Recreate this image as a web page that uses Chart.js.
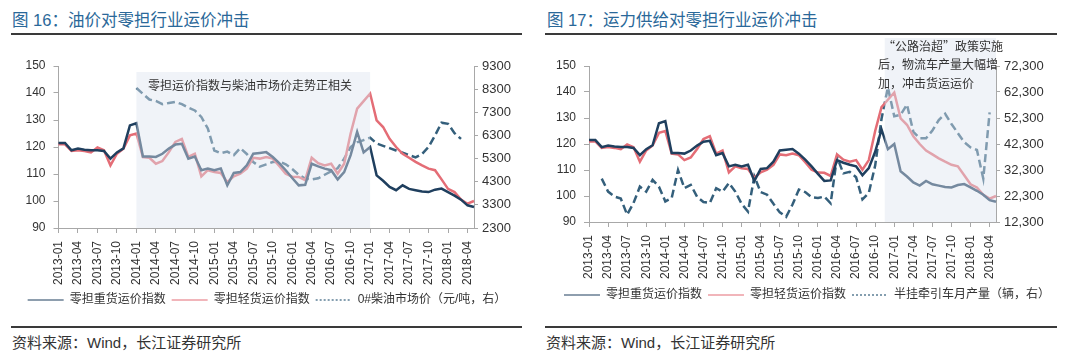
<!DOCTYPE html>
<html>
<head>
<meta charset="utf-8">
<script src="https://cdn.jsdelivr.net/npm/chart.js@4.4.1/dist/chart.umd.min.js"></script>
<style>
  body { margin: 0; background: #fff; }
  #page { position: relative; width: 1080px; height: 354px; overflow: hidden; background: #fff; }
  .title { position: absolute; top: 9px; font: 16.5px/22px "Liberation Sans", "Noto Sans CJK SC", sans-serif; color: #2a6899; white-space: nowrap; }
  .rule { position: absolute; height: 2px; background: #3a3a3a; }
  .src { position: absolute; top: 333px; font: 15px/20px "Liberation Sans", "Noto Sans CJK SC", sans-serif; color: #333; white-space: nowrap; }
  canvas { position: absolute; }
</style>
</head>
<body>
<div id="page">
  <div class="title" style="left:12px">图 16：油价对零担行业运价冲击</div>
  <div class="rule" style="left:11px;top:33px;width:511px"></div>
  <canvas id="c1" width="530" height="280" style="left:0;top:40px"></canvas>
  <div class="rule" style="left:11px;top:326px;width:511px"></div>
  <div class="src" style="left:12px">资料来源：Wind，长江证券研究所</div>

  <div class="title" style="left:547px">图 17：运力供给对零担行业运价冲击</div>
  <div class="rule" style="left:545px;top:33px;width:512px"></div>
  <canvas id="c2" width="530" height="290" style="left:540px;top:30px"></canvas>
  <div class="rule" style="left:545px;top:326px;width:512px"></div>
  <div class="src" style="left:546px">资料来源：Wind，长江证券研究所</div>
</div>
<script>
// monthly categories
const months = [
  "2013-01","2013-02","2013-03","2013-04","2013-05","2013-06","2013-07","2013-08","2013-09","2013-10","2013-11","2013-12",
  "2014-01","2014-02","2014-03","2014-04","2014-05","2014-06","2014-07","2014-08","2014-09","2014-10","2014-11","2014-12",
  "2015-01","2015-02","2015-03","2015-04","2015-05","2015-06","2015-07","2015-08","2015-09","2015-10","2015-11","2015-12",
  "2016-01","2016-02","2016-03","2016-04","2016-05","2016-06","2016-07","2016-08","2016-09","2016-10","2016-11","2016-12",
  "2017-01","2017-02","2017-03","2017-04","2017-05","2017-06","2017-07","2017-08","2017-09","2017-10","2017-11","2017-12",
  "2018-01","2018-02","2018-03","2018-04","2018-05"
];
const tickMonths = [
  "2013-01","2013-04","2013-07","2013-10","2014-01","2014-04","2014-07","2014-10",
  "2015-01","2015-04","2015-07","2015-10","2016-01","2016-04","2016-07","2016-10",
  "2017-01","2017-04","2017-07","2017-10","2018-01","2018-04"
];

// 零担重货运价指数
const heavyIndex = [
  121.5, 121.5, 118.8, 119.4, 119.0, 118.8, 118.8, 118.5, 115.7, 118.0, 119.5, 128.0,
  128.8, 116.5, 116.5, 116.3, 117.5, 119.4, 120.9, 121.2, 115.7, 116.5, 111.4, 112.0,
  111.4, 112.0, 105.8, 110.4, 110.7, 113.2, 117.5, 117.8, 118.1, 116.3, 114.0, 111.4,
  108.5, 105.8, 106.0, 113.8, 112.8, 112.0, 111.4, 108.0, 110.7, 117.0, 125.6, 118.0,
  120.0, 109.5, 107.5, 105.2, 104.0, 105.8, 104.5, 104.0, 103.5, 103.3, 104.2, 104.6,
  103.3, 102.0, 100.5, 98.4, 97.8
];
// 零担轻货运价指数
const lightIndex = [
  121.0, 121.0, 118.5, 118.8, 118.5, 118.0, 119.8, 118.8, 113.2, 117.5, 119.4, 124.3,
  125.0, 116.3, 116.0, 113.8, 114.8, 118.1, 121.9, 123.0, 116.3, 117.5, 109.1, 111.4,
  110.7, 110.4, 107.0, 109.1, 110.1, 112.0, 116.0, 115.7, 116.3, 115.7, 113.0, 110.1,
  109.0, 108.9, 107.7, 116.0, 114.0, 113.2, 113.8, 110.1, 113.8, 125.0, 134.2, 137.0,
  139.8, 129.9, 127.4, 123.0, 120.0, 117.5, 116.0, 114.5, 113.2, 112.0, 111.4, 108.0,
  104.5, 103.3, 100.5, 99.0, 100.0
];
// 0#柴油市场价（元/吨）
const dieselPrice = [
  null, null, null, null, null, null, null, null, null, null, null, null,
  8350, 8100, 7850, 7790, 7650, 7700, 7750, 7650, 7500, 7380, 7100, 6600,
  5650, 5530, 5600, 5450, 5750, 5500, 5150, 4950, 5050, 5150, 5170, 5050,
  4850, 4600, 4440, 4400, 4450, 4600, 4750, 4880, 5300, 5800, 6000, 6100,
  6200, 5950, 5850, 5750, 5650, 5550, 5450, 5350, 5500, 5800, 6300, 6850,
  6800, 6400, 6150, null, null
];
// 半挂牵引车月产量（辆）
const tractorOutput = [
  null, null, 29000, 24000, 22100, 21300, 15100, 19600, 25900, 24000, 28500, 25900,
  20200, 21500, 32300, 25300, 26600, 22000, 20000, 19600, 25300, 24000, 27300, 24000,
  19300, 16300, 29800, 23800, 22800, 19300, 16000, 14300, 19000, 24800, 23800, 21800,
  21500, 22100, 19500, 37300, 31000, 31600, 29500, 21000, 23500, 34000, 52000, 64000,
  53000, 53500, 57500, 47000, 44500, 44500, 47500, 51500, 53900, 50000, 46500, 43000,
  41000, 40000, 29000, 54500, null
];

const indexTicks = [90, 100, 110, 120, 130, 140, 150];
const dieselTicks = [2300, 3300, 4300, 5300, 6300, 7300, 8300, 9300];
const tractorTicks = [12300, 22300, 32300, 42300, 52300, 62300, 72300];

const HEAVY = "#1f3f5e";
const LIGHT = "#e46d76";
const DASHC = "#345f7b";
const AXIS = "#a8a8a8";
const TEXT = "#333333";
const FONT = '"Liberation Sans", "Noto Sans CJK SC", sans-serif';

Chart.defaults.font.family = FONT;
Chart.defaults.color = TEXT;

// translucent band drawn over the lines, plus the annotation text
function shadePlugin(cfg) {
  return {
    id: "shade",
    afterDatasetsDraw(chart) {
      const { ctx, chartArea, scales } = chart;
      const x0 = scales.x.getPixelForValue(cfg.from);
      const x1 = cfg.to == null ? chartArea.right : scales.x.getPixelForValue(cfg.to);
      ctx.save();
      ctx.fillStyle = "rgba(222,229,239,0.45)";
      ctx.fillRect(x0, cfg.top, x1 - x0, chartArea.bottom - cfg.top);
      ctx.fillStyle = TEXT;
      ctx.font = '12px "Noto Sans CJK SC"';
      ctx.textBaseline = "middle";
      cfg.lines.forEach(l => ctx.fillText(l.text, l.x, l.y));
      ctx.restore();
    }
  };
}

function renderChart(id, g) {
  const ctx = document.getElementById(id).getContext("2d");
  return new Chart(ctx, {
    type: "line",
    data: {
      labels: months,
      datasets: [
        { label: "零担重货运价指数", data: heavyIndex, borderColor: HEAVY, yAxisID: "y" },
        { label: "零担轻货运价指数", data: lightIndex, borderColor: LIGHT, yAxisID: "y" },
        { label: g.rightLabel, data: g.rightData, borderColor: DASHC, borderDash: [8, 4], yAxisID: "y1" }
      ]
    },
    options: {
      responsive: false,
      animation: false,
      devicePixelRatio: 1,
      elements: { line: { borderWidth: 2.5, tension: 0 }, point: { radius: 0 } },
      layout: { padding: { top: g.padTop, left: 4, right: 0, bottom: g.padBottom } },
      plugins: {
        tooltip: { enabled: false },
        legend: {
          position: "bottom",
          labels: {
            usePointStyle: true,
            pointStyleWidth: 36,
            boxHeight: 12,
            padding: 6,
            color: TEXT,
            font: { size: 12 },
            generateLabels(chart) {
              const items = Chart.defaults.plugins.legend.labels.generateLabels(chart);
              items.forEach(it => {
                it.pointStyle = "line";
                it.lineWidth = 1.2;
                if (it.datasetIndex === 2) it.lineDash = [2, 2];
              });
              return items;
            }
          }
        }
      },
      scales: {
        x: {
          afterBuildTicks: s => { s.ticks = tickMonths.map(m => ({ value: months.indexOf(m) })); },
          afterFit: s => { s.height = g.xHeight; },
          ticks: { autoSkip: false, minRotation: 90, maxRotation: 90, padding: 8, font: { size: 12 } },
          grid: { drawOnChartArea: false, tickLength: 5, color: AXIS },
          border: { color: AXIS }
        },
        y: {
          position: "left",
          min: indexTicks[0],
          max: indexTicks[indexTicks.length - 1],
          afterBuildTicks: s => { s.ticks = indexTicks.map(v => ({ value: v })); },
          afterFit: s => { s.width = g.leftW; },
          ticks: { padding: 8, font: { size: 12 } },
          grid: { drawOnChartArea: false, tickLength: 5, color: AXIS },
          border: { color: AXIS }
        },
        y1: {
          position: "right",
          min: g.rightTicks[0],
          max: g.rightTicks[g.rightTicks.length - 1],
          afterBuildTicks: s => { s.ticks = g.rightTicks.map(v => ({ value: v })); },
          afterFit: s => { s.width = g.rightW; },
          ticks: { padding: 4, font: { size: 13 }, callback: g.fmt },
          grid: { drawOnChartArea: false, tickLength: 4, color: AXIS },
          border: { color: AXIS }
        }
      }
    },
    plugins: [shadePlugin(g.shade)]
  });
}

renderChart("c1", {
  rightLabel: "0#柴油市场价（元/吨，右）",
  rightData: dieselPrice,
  rightTicks: dieselTicks,
  fmt: v => String(v),
  padTop: 26, padBottom: 4, xHeight: 60, leftW: 54.5, rightW: 56,
  shade: { from: 12, to: 48, top: 32, lines: [{ text: "零担运价指数与柴油市场价走势正相关", x: 148, y: 45 }] }
});

renderChart("c2", {
  rightLabel: "半挂牵引车月产量（辆，右）",
  rightData: tractorOutput,
  rightTicks: tractorTicks,
  fmt: v => v.toLocaleString("en-US"),
  padTop: 36, padBottom: 9, xHeight: 61, leftW: 45, rightW: 74,
  shade: {
    from: 46.5, to: null, top: 8,
    lines: [
      { text: "“公路治超”政策实施", x: 343, y: 16 },
      { text: "后，物流车产量大幅增", x: 338, y: 34.5 },
      { text: "加，冲击货运运价", x: 338, y: 53 }
    ]
  }
});
</script>
</body>
</html>
